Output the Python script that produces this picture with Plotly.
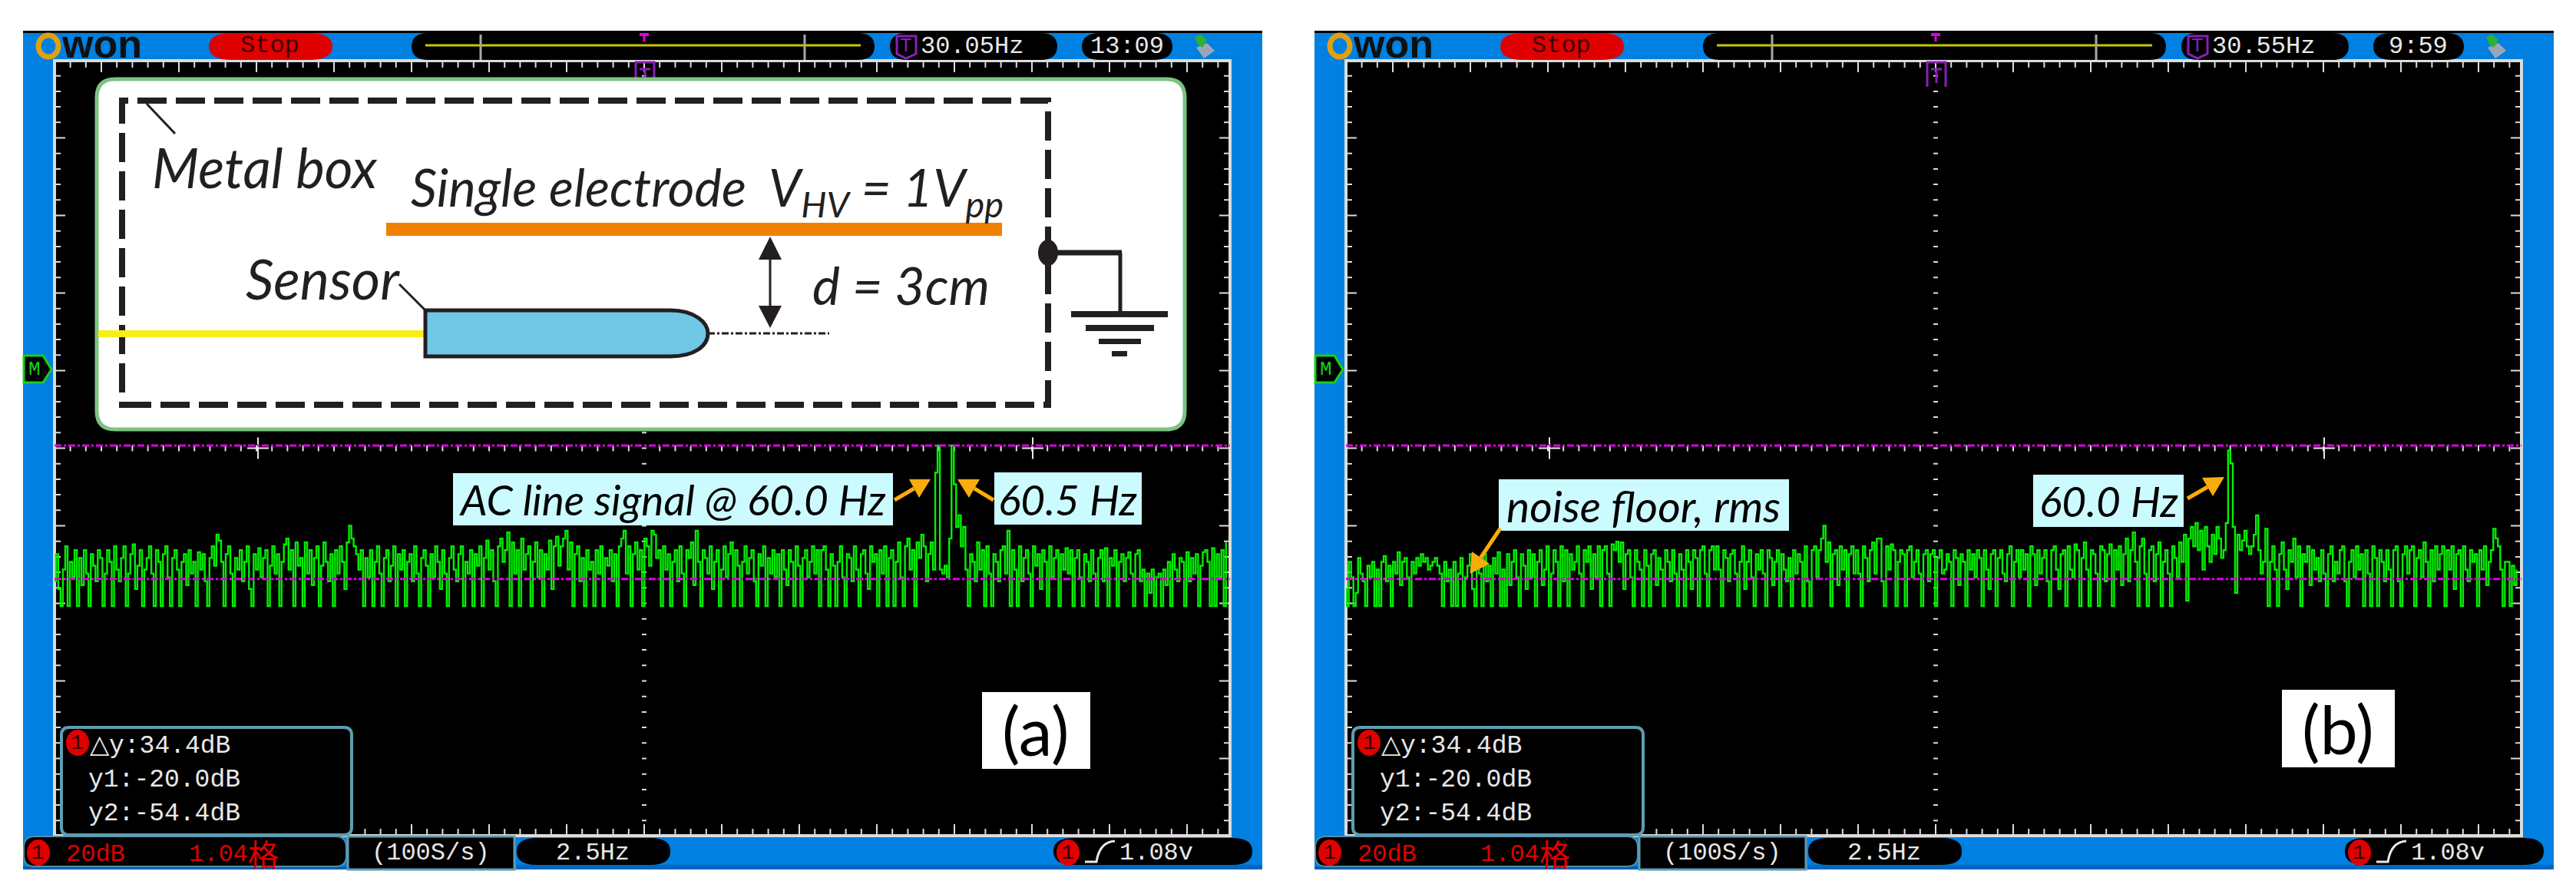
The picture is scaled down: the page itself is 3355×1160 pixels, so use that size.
import plotly.graph_objects as go

# ---------- data ----------
F0_HZ = 31.5
DF_HZ = 0.075
X_RANGE_A = [31.53, 69.43]
X_RANGE_B = [31.56, 69.46]
Y_RANGE_DB = [-120.6, 79.2]
CURSOR_DB = [-20.0, -54.4]

SPECTRUM_A = [
-55,-48,-57,-61.4,-52,-46,-61.4,-50,-54,-47,-61.4,-49,-56,-47,-53,-61.4,-48,-51,-55,-47,
-49,-61.4,-53,-47,-50,-61.4,-46,-52,-55,-49,-46,-61.4,-53,-48,-45.5,-57,-51,-47,-61.4,-52,
-49,-46,-53,-61.4,-47,-50,-61.4,-48,-46,-54,-61.4,-49,-47,-52,-61.4,-50,-48,-56,-47,-53,
-50,-61.4,-47.5,-52,-48,-55,-61.4,-49,-46,-51,-43,-44.5,-50,-61.4,-48,-46,-53,-61.4,-49,-52,
-47,-55,-50,-46,-57,-61.4,-48,-52,-46.5,-54,-49,-47,-61.4,-51,-46,-53,-48,-61.4,-50,-45.5,
-44,-52,-47,-61.4,-45,-51,-49,-61.4,-45,-53,-47,-56,-49,-46,-61.4,-51,-45,-50,-55,-48,
-61.4,-47,-53,-46,-50,-57,-45,-40.7,-44,-46,-48,-52,-47,-61.4,-49,-54,-47,-61.4,-50,-46,
-53,-61.4,-49,-47,-55,-51,-46,-61.4,-48,-52,-47,-61.4,-50,-48,-55,-46,-53,-61.4,-49,-47,
-51,-61.4,-48,-54,-46,-50,-57,-47,-53,-61.4,-49,-46,-52,-55,-48,-46,-61.4,-50,-53,-47,
-61.4,-48,-51,-46,-61.4,-49,-44.5,-52,-47,-55,-61.4,-46,-44,-50,-47,-42.4,-61.4,-45,-53,-47,
-61.4,-44,-52,-48,-46,-61.4,-50,-45,-54,-47,-61.4,-48,-52,-44.5,-57,-46,-43.5,-51,-46,-44,
-42,-52,-45,-61.4,-48,-46,-55,-49,-61.4,-47,-52,-50,-61.4,-47,-53,-46,-61.4,-49,-51,-47,
-55,-48,-61.4,-46,-44,-42,-53,-46,-61.4,-48,-45,-52,-47,-61.4,-44,-46,-51,-42,-43,-49,
-47,-61.4,-46,-52,-48,-61.4,-50,-47,-55,-46,-53,-61.4,-47,-49,-45,-56,-42,-50,-61.4,-47,
-49,-53,-46,-57,-50,-47,-61.4,-52,-46,-54,-48,-45,-61.4,-47,-51,-61.4,-50,-46,-53,-49,
-47,-55,-61.4,-48,-51,-46,-61.4,-49,-53,-47,-54,-48,-61.4,-47,-52,-56,-47,-50,-61.4,-46,
-51,-61.4,-49,-47,-54,-50,-46,-53,-47,-61.4,-47,-46,-52,-61.4,-48,-51,-61.4,-50,-46,-54,
-61.4,-48,-49,-55,-46,-52,-61.4,-48,-47,-53,-57,-46,-50,-48,-61.4,-47,-53,-46,-61.4,-49,
-47,-61.4,-50,-45,-54,-61.4,-46,-44,-52,-47,-61.4,-45,-49,-43,-46,-55,-48,-45,-52,-27,
-20,-52,-53,-51,-54,-44,-20,-30,-41,-38,-46,-41,-52,-61.4,-48,-50,-55,-45,-52,-47,
-61.4,-46,-53,-61.4,-48,-50,-55,-47,-46,-53,-42,-61.4,-47,-52,-61.4,-46,-55,-49,-47,-53,
-61.4,-46,-51,-48,-57,-47,-50,-61.4,-46,-54,-49,-47,-61.4,-48,-52,-46.5,-53,-47,-61.4,-49,
-47,-54,-61.4,-48,-50,-55,-47,-53,-61.4,-49,-47,-55,-46.5,-61.4,-49,-51,-47,-61.4,-50,-48,
-55,-49,-47.5,-53,-61.4,-48,-47,-55,-52,-61.4,-53,-58,-52,-61.4,-54,-53,-61.4,-52,-56,-50,
-61.4,-48,-52,-55,-49,-50,-61.4,-47.5,-55,-49,-53,-48,-61.4,-51,-47.5,-47,-50,-61.4,-46.5,-61.4,
-48,-54,-47,-61.4,-45]

SPECTRUM_B = [
-57,-61.4,-50,-54,-61.4,-58,-49,-53,-55,-61.4,-51,-54,-50,-61.4,-52,-61.4,-50,-48.5,-55,-51,
-61.4,-50,-53,-47.5,-56,-50,-49,-54,-61.4,-50,-53,-49,-51,-48,-50,-49,-52,-51,-50,-49,
-51,-53,-61.4,-50,-55,-52,-61.4,-50,-61.4,-53,-49,-61.4,-54,-51,-48,-57,-61.4,-50,-53,-61.4,
-48,-55,-51,-61.4,-49,-53,-47.5,-61.4,-52,-61.4,-48,-56,-50,-47,-54,-61.4,-48,-51,-57,-47,
-54,-48,-61.4,-50,-47,-56,-52,-46,-61.4,-53,-47,-50,-61.4,-46,-55,-47,-61.4,-48,-52,-50,
-46,-53,-61.4,-47,-50,-46,-57,-48,-54,-46,-61.4,-47,-46,-53,-61.4,-45.5,-47,-44.8,-50,-45,
-57,-48,-47,-54,-61.4,-47,-50,-52,-61.4,-47,-51,-61.4,-48,-47,-56,-49,-52,-61.4,-47,-50,
-55,-47,-53,-61.4,-48,-52,-61.4,-47,-50,-57,-47,-49,-61.4,-47,-46,-53,-61.4,-47,-46,-52,
-46,-52,-61.4,-47,-49,-55,-48,-47,-53,-61.4,-50,-46,-57,-50,-47,-54,-61.4,-48,-52,-47,
-53,-61.4,-47,-49,-56,-50,-47,-61.4,-48,-52,-55,-49,-61.4,-47,-53,-48,-50,-61.4,-46,-55,
-61.4,-47,-46,-54,-47,-44,-40.7,-50,-45,-61.4,-48,-47,-56,-46,-52,-47,-61.4,-48,-46,-53,
-47,-53,-61.4,-46,-49,-55,-47,-45,-53,-44,-44,-55,-61.4,-46,-52,-45.5,-47,-61.4,-50,-47,
-48,-61.4,-47,-46,-54,-50,-47,-53,-61.4,-48,-47,-55,-48,-47,-61.4,-49,-47,-53,-52,-48,
-50,-61.4,-47,-49,-56,-48,-50,-61.4,-47,-52,-48,-54,-47,-49,-61.4,-47,-52,-57,-48,-47,
-61.4,-49,-47,-53,-55,-48,-46,-61.4,-50,-47,-54,-47,-52,-48,-61.4,-46,-48,-56,-47,-53,
-49,-47,-55,-61.4,-47,-46,-52,-57,-48,-47,-61.4,-46,-52,-54,-45.5,-47,-61.4,-49,-45,-52,
-61.4,-47,-48,-53,-61.4,-46,-47,-55,-48,-45.5,-61.4,-47,-52,-46,-56,-48,-44,-55,-47,-42.4,
-50,-61.4,-46,-44,-53,-61.4,-47,-46,-55,-48,-45,-61.4,-50,-47,-53,-61.4,-46,-49,-54,-45,
-50,-43,-60,-44,-41,-46,-40,-47,-42,-52,-41,-46,-50,-43,-48,-41,-44,-49,-47,-40,
-21.3,-24.6,-41,-58,-43,-47,-44.5,-42,-46,-48,-46,-43,-38,-47,-53,-50,-41.5,-61.4,-50,-46,
-52,-61.4,-48,-45,-52,-57,-47,-50,-44,-54,-46,-61.4,-48,-50,-46,-56,-47,-52,-49,-55,
-47,-53,-61.4,-48,-46,-55,-50,-53,-47,-46,-55,-61.4,-50,-47,-54,-46,-52,-48,-61.4,-47,
-53,-61.4,-46,-49,-61.4,-47,-50,-55,-47,-52,-61.4,-47,-46,-55,-61.4,-48,-46,-53,-47,-46,
-61.4,-49,-47,-54,-45,-50,-61.4,-47,-55,-46,-52,-48,-46,-61.4,-47,-52,-46,-57,-48,-47,
-61.4,-46,-52,-55,-47,-50,-48,-61.4,-47,-52,-46,-56,-50,-47,-41.5,-44,-46,-52,-61.4,-50,
-50,-61.4,-51,-56,-52]

READOUT_LINES = ["\u25b3y:34.4dB", "y1:-20.0dB", "y2:-54.4dB"]
FREQ_TEXT = ["30.05Hz", "30.55Hz"]
TIME_TEXT = ["13:09", "9:59"]

# ---------- helpers ----------
W, H = 3355, 1160
MONO = "Liberation Mono"
ITAL = "Lato"
BLUE = "#0080e0"
DARK = "#231f20"
ORANGE = "#f9ac0c"
LABEL = "#ccfbff"
RED = "#e00000"
PURPLE = "#8a1fb5"
LIGHT = "#dcdcdc"

def fx(x): return round(x / W, 6)
def fy(y): return round(1 - y / H, 6)

shapes = []
annots = []

def rect(x0, y0, x1, y1, fill, line=None, lw=0, layer="below"):
    shapes.append(dict(type="rect", xref="paper", yref="paper", x0=fx(x0), x1=fx(x1), y0=fy(y0), y1=fy(y1),
                       fillcolor=fill, line=dict(color=line or fill, width=lw), layer=layer))

def seg(x0, y0, x1, y1, color, lw=2, dash="solid", layer="below"):
    shapes.append(dict(type="line", xref="paper", yref="paper", x0=fx(x0), x1=fx(x1), y0=fy(y0), y1=fy(y1),
                       line=dict(color=color, width=lw, dash=dash), layer=layer))

def ell(cx, cy, rx, ry, fill, layer="below", line=None, lw=0):
    shapes.append(dict(type="circle", xref="paper", yref="paper", x0=fx(cx-rx), x1=fx(cx+rx), y0=fy(cy+ry), y1=fy(cy-ry),
                       fillcolor=fill, line=dict(width=lw, color=line or fill), layer=layer))

def pth(cmds, fill=None, line=None, lw=0, layer="below"):
    s = ""
    for c in cmds:
        s += c[0]
        nums = c[1:]
        s += " ".join(f"{fx(nums[i])},{fy(nums[i+1])}" for i in range(0, len(nums), 2)) + " "
    shapes.append(dict(type="path", xref="paper", yref="paper", path=s.strip(),
                       fillcolor=fill or "rgba(0,0,0,0)", line=dict(color=line or "rgba(0,0,0,0)", width=lw), layer=layer))

def rrect(x0, y0, x1, y1, rx, ry=None, fill=None, line=None, lw=0, layer="below"):
    ry = rx if ry is None else ry
    pth([("M", x0+rx, y0), ("L", x1-rx, y0), ("Q", x1, y0, x1, y0+ry), ("L", x1, y1-ry), ("Q", x1, y1, x1-rx, y1),
         ("L", x0+rx, y1), ("Q", x0, y1, x0, y1-ry), ("L", x0, y0+ry), ("Q", x0, y0, x0+rx, y0), ("Z",)],
        fill=fill, line=line, lw=lw, layer=layer)

def txt(x, y, s, size, color="#e8e8e8", font=MONO, anchor="center"):
    annots.append(dict(xref="paper", yref="paper", x=fx(x), y=fy(y), text=s, showarrow=False,
                       xanchor=anchor, yanchor="middle", borderpad=0, borderwidth=0,
                       font=dict(size=size, color=color, family=font)))

def arrow(tail, tip, h1, h2):
    bx, by = (h1[0]+h2[0])/2, (h1[1]+h2[1])/2
    seg(tail[0], tail[1], bx, by, ORANGE, lw=5, layer="above")
    pth([("M", *tip), ("L", *h1), ("L", *h2), ("Z",)], fill=ORANGE, layer="above")

def badge(x, y):
    ell(x, y, 15, 17, RED)
    txt(x, y, "1", 28, "#300000")

def chrome(dx, freq, clock):
    rect(30+dx, 40, 1645+dx-1, 1132, BLUE)
    rect(30+dx, 40, 1645+dx-1, 43, "#000000")
    rect(71+dx, 79, 1602+dx, 1088, "#000000", LIGHT, 4)
    cx, cy, st = 839+dx, 583.5, 20.2
    d = []
    for k in range(-38, 39):
        x = cx + k*st
        if 72+dx < x < 1601+dx:
            big = k % 5 == 0
            L = 13 if big else 7
            d += [("M", x, 81), ("L", x, 81+L), ("M", x, 1086), ("L", x, 1086-L)]
            if abs(k) != 0:
                d += [("M", x, cy-4), ("L", x, cy+4)]
    for k in range(-24, 25):
        y = cy + k*st
        if 81 < y < 1086:
            L = 12 if k % 5 == 0 else 6
            d += [("M", 73+dx, y), ("L", 73+dx+L, y), ("M", 1600+dx, y), ("L", 1600+dx-L, y)]
            d += [("M", cx-3, y), ("L", cx+3, y)]
    pth(d, line=LIGHT, lw=2)
    for xx in (336+dx, 1345+dx):
        seg(xx, cy-14, xx, cy+14, "#e8e8e8", 2)
        seg(xx-14, cy, xx+14, cy, "#e8e8e8", 2)
    # logo
    ell(63+dx, 60, 13, 14, "rgba(0,0,0,0)", line="#e0a010", lw=7)
    txt(80+dx, 57, "<b>won</b>", 52, "#101010", "Liberation Sans", "left")
    # stop
    rrect(272+dx, 43, 433+dx, 78, 30, 18, fill=RED)
    txt(352+dx, 60, "Stop", 32, "#400000")
    # timeline
    rrect(536+dx, 43, 1139+dx, 78, 22, 18, fill="#000000")
    seg(554+dx, 59, 1121+dx, 59, "#c8c800", 3)
    seg(626+dx, 45, 626+dx, 78, "#a8a8a8", 3)
    seg(1048+dx, 45, 1048+dx, 78, "#a8a8a8", 3)
    seg(833+dx, 45, 845+dx, 45, "#e000e0", 4)
    seg(839+dx, 45, 839+dx, 54, "#e000e0", 3)
    # frequency
    rrect(1159+dx, 43, 1377+dx, 78, 22, 18, fill="#000000")
    pth([("M", 1168+dx, 47), ("L", 1193+dx, 47), ("L", 1193+dx, 70), ("L", 1180+dx, 76), ("L", 1168+dx, 70), ("Z",)], line=PURPLE, lw=3)
    txt(1180+dx, 60, "T", 26, PURPLE)
    txt(1199+dx, 61, freq, 32, anchor="left")
    # clock
    rrect(1409+dx, 43, 1527+dx, 78, 24, 18, fill="#000000")
    txt(1468+dx, 61, clock, 32)
    # usb icon
    pth([("M", 1558+dx, 62), ("L", 1572+dx, 56), ("L", 1582+dx, 66), ("L", 1568+dx, 76), ("Z",)], fill="#9aa6b8")
    pth([("M", 1556+dx, 48), ("L", 1564+dx, 45), ("L", 1572+dx, 52), ("L", 1566+dx, 62), ("L", 1560+dx, 58), ("Z",)], fill="#30b030")
    # top trigger mark
    pth([("M", 828+dx, 113), ("L", 828+dx, 81), ("L", 852+dx, 81), ("L", 852+dx, 113)], line=PURPLE, lw=3)
    seg(833+dx, 90, 847+dx, 90, PURPLE, 3)
    seg(840+dx, 90, 840+dx, 108, PURPLE, 3)
    # M marker
    pth([("M", 31+dx, 463), ("L", 56+dx, 463), ("L", 67+dx, 481), ("L", 56+dx, 498), ("L", 31+dx, 498), ("Z",)], fill="#000000", line="#18d018", lw=3)
    txt(45+dx, 481, "M", 26, "#18d018")
    # bottom
    rect(673+dx, 1126, 1645+dx-1, 1132, "#0068c0")
    rect(30+dx, 1128, 452+dx, 1132, "#0060b0")
    rrect(31+dx, 1089, 451+dx, 1128, 14, 14, fill="#000000", line="#4f8fa8", lw=2)
    rect(453+dx, 1089, 670+dx, 1132, "#000000", "#5f9db0", 3)
    rrect(673+dx, 1091, 873+dx, 1126, 26, 17, fill="#000000")
    rrect(1372+dx, 1091, 1631+dx, 1126, 26, 17, fill="#000000")
    badge(50+dx, 1110)
    badge(1391+dx, 1110)
    txt(86+dx, 1112, "20dB", 32, RED, anchor="left")
    txt(246+dx, 1112, "1.04", 32, RED, anchor="left")
    txt(343+dx, 1111, "\u683c", 40, RED, "Noto Sans CJK SC")
    txt(561+dx, 1110, "(100S/s)", 32)
    txt(772+dx, 1110, "2.5Hz", 32)
    pth([("M", 1413+dx, 1122), ("L", 1428+dx, 1122), ("Q", 1432+dx, 1096, 1452+dx, 1095)], line="#e8e8e8", lw=3)
    txt(1458+dx, 1110, "1.08v", 32, anchor="left")
    # readout box
    rrect(80+dx, 947, 458+dx, 1087, 10, 10, fill="#000000", line="#5f9db0", lw=4)
    badge(101+dx, 967)
    txt(117+dx, 972, READOUT_LINES[0], 33, anchor="left")
    txt(115+dx, 1016, READOUT_LINES[1], 33, anchor="left")
    txt(115+dx, 1060, READOUT_LINES[2], 33, anchor="left")

chrome(0, FREQ_TEXT[0], TIME_TEXT[0])
chrome(1682, FREQ_TEXT[1], TIME_TEXT[1])

# ---------- inset panel (a) ----------
rrect(126, 103, 1543, 559, 24, 24, fill="#ffffff", line="#7dc383", lw=5, layer="above")
shapes.append(dict(type="rect", xref="paper", yref="paper", x0=fx(159), x1=fx(1365), y0=fy(527), y1=fy(131),
                   line=dict(color=DARK, width=8, dash="38px,12px"), layer="above"))
seg(191, 135, 228, 174, DARK, 3, layer="above")
rect(503, 290, 1305, 307, "#f08000", layer="above")
rect(128, 430, 554, 439, "#f8ee17", layer="above")
seg(922, 434, 1080, 434, DARK, 3, dash="dashdot", layer="above")
pth([("M", 554, 404), ("L", 873, 404), ("C", 905, 404, 922, 420, 922, 434), ("C", 922, 450, 905, 464, 873, 464), ("L", 554, 464), ("Z",)],
    fill="#70c7e6", line=DARK, lw=5, layer="above")
seg(520, 370, 554, 404, DARK, 3, layer="above")
seg(1003, 325, 1003, 410, DARK, 3, layer="above")
pth([("M", 1003, 308), ("L", 1018, 338), ("L", 988, 338), ("Z",)], fill=DARK, layer="above")
pth([("M", 1003, 427), ("L", 1018, 398), ("L", 988, 398), ("Z",)], fill=DARK, layer="above")
ell(1365, 329, 13, 17, DARK, layer="above")
seg(1365, 329, 1461, 329, DARK, 7, layer="above")
seg(1459, 329, 1459, 406, DARK, 5, layer="above")
rect(1395, 405, 1521, 413, DARK, layer="above")
rect(1414, 423, 1503, 431, DARK, layer="above")
rect(1431, 441, 1486, 448, DARK, layer="above")
rect(1448, 457, 1468, 464, DARK, layer="above")
txt(198, 218, "<i>Metal box</i>", 71, DARK, ITAL, "left")
txt(535, 248, "<i>Single electrode&nbsp;&nbsp;V<sub>HV</sub> = 1V<sub>pp</sub></i>", 67, DARK, ITAL, "left")
txt(320, 362, "<i>Sensor</i>", 72, DARK, ITAL, "left")
txt(1058, 370, "<i>d = 3cm</i>", 68, DARK, ITAL, "left")

# ---------- labels ----------
rect(590, 616, 1163, 684, LABEL, layer="above")
txt(876, 650, "<i>AC line signal @ 60.0 Hz</i>", 55, "#000000", ITAL)
rect(1295, 615, 1487, 683, LABEL, layer="above")
txt(1391, 650, "<i>60.5 Hz</i>", 55, "#000000", ITAL)
arrow((1165, 651), (1212, 624), (1184, 624), (1197, 648))
arrow((1294, 651), (1247, 624), (1276, 624), (1262, 648))
rect(1279, 901, 1420, 1001, "#ffffff", layer="above")
txt(1349, 950, "(a)", 88, "#000000", ITAL)

rect(1952, 624, 2330, 691, LABEL, layer="above")
txt(2141, 658, "<i>noise floor, rms</i>", 57, "#000000", ITAL)
rect(2648, 618, 2844, 686, LABEL, layer="above")
txt(2746, 652, "<i>60.0 Hz</i>", 55, "#000000", ITAL)
arrow((1954, 688), (1914.5, 747), (1917, 718), (1940, 734))
arrow((2849, 649), (2897, 621), (2868, 622), (2882, 646))
rect(2972, 898, 3119, 999, "#ffffff", layer="above")
txt(3045, 948, "(b)", 88, "#000000", ITAL)

for ax, ay, x0, x1 in (("x", "y", X_RANGE_A[0], X_RANGE_A[1]), ("x2", "y2", X_RANGE_B[0], X_RANGE_B[1])):
    for v in CURSOR_DB:
        shapes.append(dict(type="line", xref=ax, yref=ay, x0=x0, x1=x1, y0=v, y1=v,
                           line=dict(color="#e000e0", width=3, dash="dashdot"), layer="above"))

# ---------- figure ----------
fig = go.Figure()
xa = [F0_HZ + i*DF_HZ for i in range(len(SPECTRUM_A))]
xb = [F0_HZ + i*DF_HZ for i in range(len(SPECTRUM_B))]
GREEN = dict(color="#00f000", width=2.4, shape="hv")
fig.add_trace(go.Scatter(x=xa, y=SPECTRUM_A, mode="lines", line=GREEN, xaxis="x", yaxis="y", showlegend=False, hoverinfo="skip"))
fig.add_trace(go.Scatter(x=xb, y=SPECTRUM_B, mode="lines", line=GREEN, xaxis="x2", yaxis="y2", showlegend=False, hoverinfo="skip"))

def axis(dom, rng, anchor, **kw):
    return dict(domain=dom, range=rng, anchor=anchor, showgrid=False, zeroline=False, showticklabels=False,
                ticks="", showline=False, fixedrange=True, **kw)

fig.update_layout(
    width=W, height=H, autosize=False, margin=dict(l=0, r=0, t=0, b=0, pad=0),
    paper_bgcolor="#ffffff", plot_bgcolor="rgba(0,0,0,0)", showlegend=False,
    xaxis=axis([fx(71), fx(1602)], X_RANGE_A, "y"),
    yaxis=axis([fy(1088), fy(79)], Y_RANGE_DB, "x"),
    xaxis2=axis([fx(1753), fx(3284)], X_RANGE_B, "y2"),
    yaxis2=axis([fy(1088), fy(79)], Y_RANGE_DB, "x2"),
    shapes=shapes, annotations=annots,
)
fig.write_html("out.html", config=dict(displayModeBar=False),
               post_script="document.body.style.margin='0';document.body.style.overflow='hidden';")
